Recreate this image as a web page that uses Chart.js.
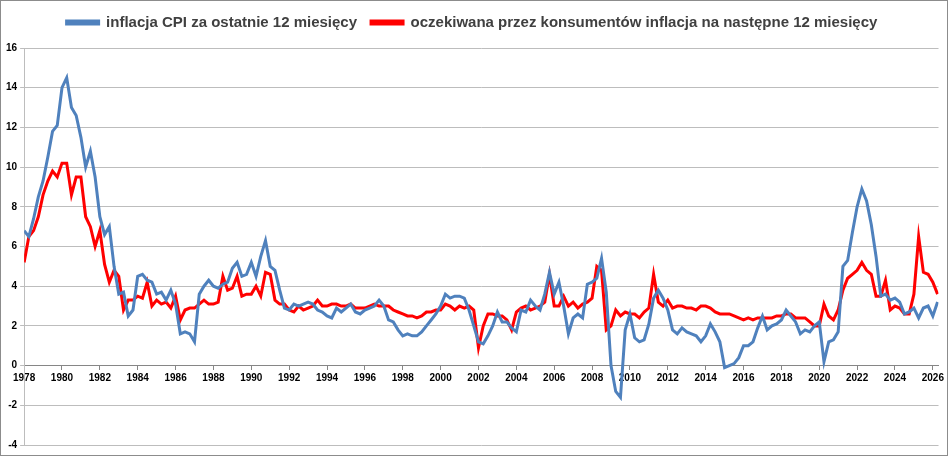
<!DOCTYPE html>
<html>
<head>
<meta charset="utf-8">
<script src="https://cdn.jsdelivr.net/npm/chart.js@4"></script>
<style>
  html, body { margin: 0; padding: 0; background: #fff; }
  #wrap { position: relative; width: 946px; height: 454px; border: 1px solid #8c8c8c; }
</style>
</head>
<body>
<div id="wrap"><canvas id="chart"></canvas></div>
<script>
// quarterly readings, first point = 1978 Q1
const START_YEAR = 1978;
const cpiValues = [
  6.8, 6.5, 7.4, 8.5,  9.3, 10.5, 11.8, 12.1,  14.0, 14.5, 13.0, 12.6,  11.5, 10.0, 10.8, 9.5,
  7.5, 6.6, 7.0, 5.0,  3.6, 3.7, 2.5, 2.8,  4.5, 4.6, 4.3, 4.2,  3.6, 3.7, 3.3, 3.8,
  3.1, 1.6, 1.7, 1.6,  1.2, 3.6, 4.0, 4.3,  4.0, 3.9, 4.1, 4.2,  4.9, 5.2, 4.5, 4.6,
  5.2, 4.5, 5.5, 6.3,  5.0, 4.8, 3.8, 2.9,  2.8, 3.1, 3.0, 3.1,  3.2, 3.1, 2.8, 2.7,
  2.5, 2.4, 2.9, 2.7,  2.9, 3.1, 2.7, 2.6,  2.8, 2.9, 3.0, 3.3,  3.0, 2.3, 2.2, 1.8,
  1.5, 1.6, 1.5, 1.5,  1.7, 2.0, 2.3, 2.6,  3.0, 3.6, 3.4, 3.5,  3.5, 3.4, 2.8, 2.0,
  1.2, 1.1, 1.5, 2.0,  2.7, 2.2, 2.2, 1.9,  1.7, 2.8, 2.7, 3.3,  3.0, 2.8, 3.6, 4.7,
  3.6, 4.2, 3.0, 1.6,  2.4, 2.6, 2.4, 4.1,  4.2, 4.4, 5.4, 3.7,  0.0, -1.3, -1.6, 1.8,
  2.6, 1.4, 1.2, 1.3,  2.1, 3.4, 3.8, 3.4,  2.8, 1.8, 1.6, 1.9,  1.7, 1.6, 1.5, 1.2,
  1.5, 2.1, 1.7, 1.2,  -0.1, 0.0, 0.1, 0.4,  1.0, 1.0, 1.2, 1.9,  2.5, 1.8, 2.0, 2.1,
  2.3, 2.8, 2.5, 2.2,  1.6, 1.8, 1.7, 2.0,  2.2, 0.2, 1.2, 1.3,  1.7, 5.0, 5.3, 6.7,
  8.0, 8.9, 8.3, 7.1,  5.5, 3.5, 3.6, 3.3,  3.4, 3.2, 2.6, 2.7,  2.9, 2.4, 2.9, 3.0,
  2.5, 3.2
];
const expectedValues = [
  5.2, 6.5, 6.8, 7.5,  8.6, 9.3, 9.8, 9.5,  10.2, 10.2, 8.6, 9.5,  9.5, 7.5, 7.0, 6.0,
  6.8, 5.1, 4.2, 4.8,  4.5, 2.8, 3.3, 3.3,  3.5, 3.4, 4.2, 3.0,  3.3, 3.1, 3.2, 2.9,
  3.5, 2.3, 2.8, 2.9,  2.9, 3.1, 3.3, 3.1,  3.1, 3.2, 4.5, 3.8,  3.9, 4.5, 3.5, 3.6,
  3.6, 4.0, 3.5, 4.7,  4.6, 3.3, 3.1, 3.1,  2.8, 2.7, 3.0, 2.8,  2.9, 3.0, 3.3, 3.0,
  3.0, 3.1, 3.1, 3.0,  3.0, 3.1, 2.9, 2.9,  2.9, 3.0, 3.1, 3.0,  3.0, 3.0, 2.8, 2.7,
  2.6, 2.5, 2.5, 2.4,  2.5, 2.7, 2.7, 2.8,  2.8, 3.1, 3.0, 2.8,  3.0, 2.9, 3.0, 2.8,
  0.9, 2.0, 2.6, 2.6,  2.5, 2.5, 2.3, 1.8,  2.7, 2.9, 3.0, 2.8,  2.9, 3.0, 3.2, 4.6,
  3.0, 3.0, 3.5, 3.0,  3.2, 2.9, 3.1, 3.2,  3.4, 5.0, 4.8, 1.8,  2.0, 2.8, 2.5, 2.7,
  2.6, 2.6, 2.4, 2.7,  2.9, 4.6, 3.2, 3.0,  3.3, 2.9, 3.0, 3.0,  2.9, 2.9, 2.8, 3.0,
  3.0, 2.9, 2.7, 2.6,  2.6, 2.6, 2.5, 2.4,  2.3, 2.4, 2.3, 2.4,  2.4, 2.4, 2.4, 2.5,
  2.5, 2.6, 2.6, 2.4,  2.4, 2.4, 2.2, 2.0,  2.0, 3.1, 2.5, 2.3,  2.8, 3.8, 4.4, 4.6,
  4.8, 5.2, 4.8, 4.6,  3.5, 3.5, 4.3, 2.8,  3.0, 2.9, 2.6, 2.6,  3.6, 6.5, 4.7, 4.6,
  4.2, 3.6
];
const seriesLabels = [
  'inflacja CPI za ostatnie 12 miesięcy',
  'oczekiwana przez konsumentów inflacja na następne 12 miesięcy'
];

const toPoints = (values) => values.map((v, i) => ({ x: START_YEAR + i / 4, y: v }));

// extra gap under the legend, like the original
const legendGap = {
  id: 'legendGap',
  beforeInit(chart) {
    const origFit = chart.legend.fit;
    chart.legend.fit = function fit() {
      origFit.bind(chart.legend)();
      this.height += 8;
    };
  }
};

new Chart(document.getElementById('chart'), {
  type: 'line',
  data: {
    datasets: [
      { label: seriesLabels[0], data: toPoints(cpiValues), borderColor: '#4f81bd', backgroundColor: '#4f81bd', borderWidth: 3, pointRadius: 0, tension: 0 },
      { label: seriesLabels[1], data: toPoints(expectedValues), borderColor: '#ff0000', backgroundColor: '#ff0000', borderWidth: 3, pointRadius: 0, tension: 0 }
    ]
  },
  options: {
    responsive: true,
    maintainAspectRatio: false,
    animation: false,
    layout: { padding: { left: 2, right: 6, top: 0, bottom: 10 } },
    plugins: {
      tooltip: { enabled: false },
      legend: {
        labels: {
          boxWidth: 32, boxHeight: 3, padding: 14,
          color: '#404040',
          font: { family: 'Liberation Sans', size: 15, weight: 'bold' }
        }
      }
    },
    scales: {
      x: {
        type: 'linear',
        position: { y: 0 },
        min: 1978, max: 2026.3,
        afterBuildTicks: (axis) => {
          const ticks = [];
          for (let y = 1978; y <= 2026; y += 2) ticks.push({ value: y });
          axis.ticks = ticks;
        },
        ticks: { autoSkip: false, maxRotation: 0, color: '#000', font: { family: 'Liberation Sans', size: 10, weight: 'bold' }, callback: (v) => String(v) },
        grid: { drawOnChartArea: false, tickLength: 4, color: '#868686' },
        border: { color: '#868686', width: 1 }
      },
      y: {
        min: -4, max: 16,
        ticks: { stepSize: 2, color: '#000', font: { family: 'Liberation Sans', size: 10, weight: 'bold' } },
        grid: { color: '#bdbdbd', tickLength: 4 },
        border: { color: '#bdbdbd' }
      }
    }
  },
  plugins: [legendGap]
});
</script>
</body>
</html>
